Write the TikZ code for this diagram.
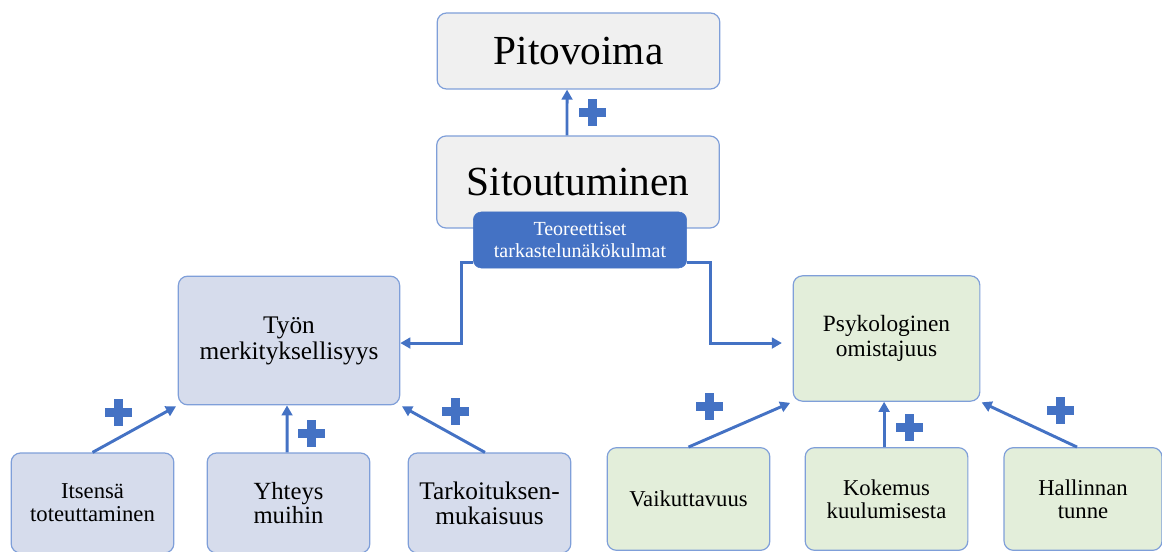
\documentclass[tikz,border=0pt]{standalone}
\usepackage{fontspec}
\setmainfont{Liberation Serif}
\usetikzlibrary{arrows.meta,calc}

\definecolor{edgeblue}{HTML}{7F9FD9}
\definecolor{darkblue}{HTML}{4472C4}
\definecolor{greybox}{HTML}{F0F0F0}
\definecolor{lilacbox}{HTML}{D6DCEC}
\definecolor{greenbox}{HTML}{E3EEDA}

\tikzset{
  plusmark/.pic={
    \fill[darkblue] (-13.5,-4.5) rectangle (13.5,4.5);
    \fill[darkblue] (-4.5,-13.5) rectangle (4.5,13.5);
  }
}

\begin{document}
\begin{tikzpicture}[
  x=0.75pt,y=-0.75pt,
  bx/.style={draw=edgeblue,line width=0.9pt,rounded corners=7pt,align=center,inner sep=2pt},
  topbox/.style={bx,fill=greybox,minimum width=212pt,font=\fontsize{31}{34}\selectfont},
  theme/.style={draw=darkblue,fill=darkblue,rounded corners=6pt,align=center,inner sep=1pt,
                text=white,minimum width=160pt,minimum height=42pt,font=\fontsize{15}{17}\selectfont},
  midL/.style={bx,fill=lilacbox,minimum width=166pt,minimum height=96.5pt,font=\fontsize{19}{19.5}\selectfont},
  midR/.style={bx,fill=greenbox,minimum width=140pt,minimum height=94pt,font=\fontsize{17.5}{19}\selectfont},
  lowL/.style={bx,fill=lilacbox,minimum width=122pt,minimum height=75pt,font=\fontsize{17}{17.5}\selectfont},
  lowR/.style={bx,fill=greenbox,minimum width=122pt,minimum height=77pt,font=\fontsize{17}{17.5}\selectfont},
  link/.style={darkblue,line width=2.2pt,-{Triangle[length=7.5pt,width=8pt]}},
]
\useasboundingbox (0,0) rectangle (1162,552);

% top of the model
\node[topbox,minimum height=57pt] (pit) at (578.5,51)  {Pitovoima};
\node[topbox,minimum height=69pt] (sit) at (578,182)   {Sitoutuminen};
\node[theme] (tt) at (580,240) {Teoreettiset\\tarkastelunäkökulmat};

% two perspectives
\node[midL] (tyon) at (289,340.5)  {Työn\\merkityksellisyys};
\node[midR] (psyk) at (886.5,338.5) {Psykologinen\\omistajuus};

% factors, left
\node[lowL] (its)  at (92.5,503)  {Itsensä\\toteuttaminen};
\node[lowL,font=\fontsize{18.5}{18}\selectfont] (yht) at (288.5,503) {Yhteys\\muihin};
\node[lowL,font=\fontsize{19}{19}\selectfont] (tark) at (489.5,503) {Tarkoituksen-\\mukaisuus};
% factors, right
\node[lowR] (vai) at (688.5,499) {Vaikuttavuus};
\node[lowR] (kok) at (886.5,499) {Kokemus\\kuulumisesta};
\node[lowR,minimum width=118.5pt] (hal) at (1083,499) {Hallinnan\\tunne};

% arrows
\draw[link] ([xshift=-8.25pt]sit.north) -- ([xshift=-8.6pt]pit.south);
\draw[link] ([yshift=4.5pt]tt.south west) -- ++(-12,0) |- ([yshift=-1.9pt]tyon.east);
\draw[link] ([yshift=4.5pt]tt.south east) -- ++(24,0) |- ([xshift=-8pt,yshift=-3.4pt]psyk.west);

\draw[link,shorten >=1.5pt] (its.north)  -- (tyon.south west);
\draw[link] ([xshift=-1pt]yht.north) -- ([xshift=-1.5pt]tyon.south);
\draw[link,shorten >=1.5pt] ([xshift=-3.4pt]tark.north) -- (tyon.south east);

\draw[link,shorten >=2pt] (vai.north) -- (psyk.south west);
\draw[link] ([xshift=-1.8pt]kok.north) -- ([xshift=-1.8pt]psyk.south);
\draw[link,shorten >=1pt] ([xshift=-4.5pt]hal.north) -- (psyk.south east);

% plus signs
\foreach \px/\py in {592/113,118/412,311/433,455/411,709/406,909/427,1060/410}
  \pic at (\px,\py) {plusmark};
\end{tikzpicture}
\end{document}
